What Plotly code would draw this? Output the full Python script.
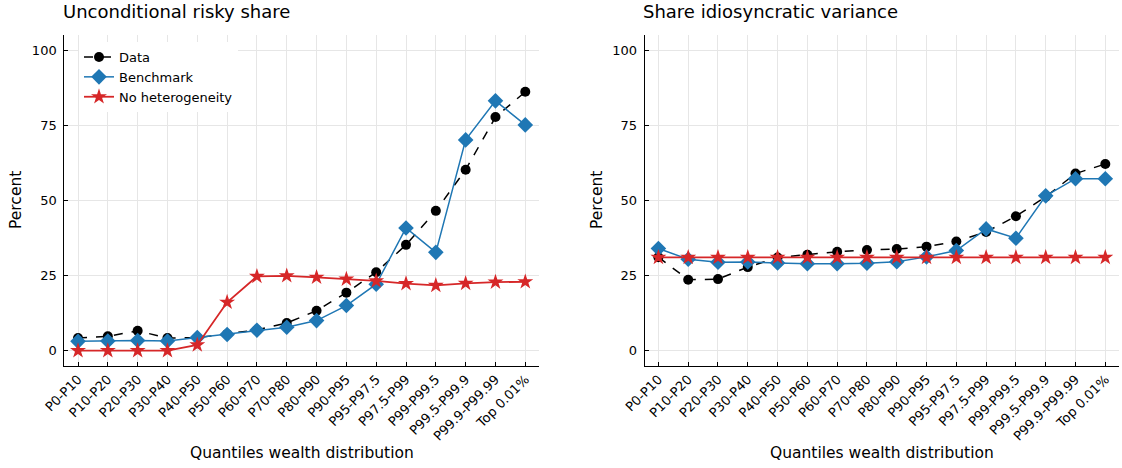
import plotly.graph_objects as go

quantiles = ["P0-P10", "P10-P20", "P20-P30", "P30-P40", "P40-P50", "P50-P60",
             "P60-P70", "P70-P80", "P80-P90", "P90-P95", "P95-P97.5", "P97.5-P99",
             "P99-P99.5", "P99.5-P99.9", "P99.9-P99.99", "Top 0.01%"]

# Unconditional risky share (percent)
risky_data = [4.2, 4.8, 6.6, 4.2, 4.3, 5.5, 6.9, 9.2, 13.3, 19.3, 26.1, 35.2,
              46.5, 60.2, 77.7, 86.1]
risky_bench = [3.1, 3.2, 3.4, 3.2, 4.4, 5.4, 6.8, 7.8, 10.0, 15.0, 22.1, 40.8,
               32.7, 70.1, 83.1, 75.1]
risky_nohet = [0.0, 0.0, 0.0, 0.0, 1.9, 16.1, 24.7, 24.9, 24.4, 23.8, 23.2, 22.3,
               21.7, 22.4, 22.8, 22.9]

# Share of idiosyncratic variance (percent)
idio_data = [31.1, 23.6, 23.8, 27.8, 31.0, 31.9, 32.9, 33.5, 33.8, 34.6, 36.3, 39.5,
             44.7, 51.2, 58.9, 62.1]
idio_bench = [34.0, 30.4, 29.4, 29.5, 29.2, 28.9, 28.9, 29.1, 29.6, 31.2, 33.3, 40.5,
              37.4, 51.5, 57.2, 57.2]
idio_nohet = [31.0] * 16

y_ticks = [0, 25, 50, 75, 100]

BLACK = "#000000"
BLUE = "#1f77b4"
RED = "#d62728"
FONT = "DejaVu Sans"

fig = go.Figure()

panels = [
    ("x", "y", risky_data, risky_bench, risky_nohet, True),
    ("x2", "y2", idio_data, idio_bench, idio_nohet, False),
]
for xa, ya, d, b, n, show in panels:
    fig.add_trace(go.Scatter(
        x=quantiles, y=d, xaxis=xa, yaxis=ya, name="Data", mode="lines+markers",
        line=dict(color=BLACK, width=1.5, dash="dash"),
        marker=dict(symbol="circle", size=10, color=BLACK),
        showlegend=show, legendgroup="data"))
    fig.add_trace(go.Scatter(
        x=quantiles, y=b, xaxis=xa, yaxis=ya, name="Benchmark", mode="lines+markers",
        line=dict(color=BLUE, width=1.5),
        marker=dict(symbol="diamond", size=12, color=BLUE),
        showlegend=show, legendgroup="bench"))
    fig.add_trace(go.Scatter(
        x=quantiles, y=n, xaxis=xa, yaxis=ya, name="No heterogeneity", mode="lines+markers",
        line=dict(color=RED, width=1.8),
        marker=dict(symbol="star", size=12, color=RED),
        showlegend=show, legendgroup="nohet"))

W, H = 1122, 468
x_dom_left = [64.3 / W, 539 / W]
x_dom_right = [644.7 / W, 1119 / W]
y_dom = [(H - 365.7) / H, (H - 35) / H]

xaxis_common = dict(
    type="category", range=[-0.46, 15.46], tickangle=-45, automargin=False,
    showline=True, linecolor=BLACK, linewidth=1, mirror=False,
    ticks="inside", ticklen=4, tickcolor=BLACK,
    showgrid=True, gridcolor="#e6e6e6", gridwidth=1, zeroline=False,
    tickfont=dict(family=FONT, size=13, color=BLACK),
)
yaxis_common = dict(
    range=[-5, 105], tickvals=y_ticks, ticktext=[str(v) for v in y_ticks],
    automargin=False,
    showline=True, linecolor=BLACK, linewidth=1, mirror=False,
    ticks="inside", ticklen=4, tickcolor=BLACK, ticklabelstandoff=4,
    showgrid=True, gridcolor="#e6e6e6", gridwidth=1, zeroline=False,
    tickfont=dict(family=FONT, size=13, color=BLACK),
)


def text_note(text, x, y, size, angle=0, xanchor="center"):
    return dict(text=text, x=x / W, y=(H - y) / H, xref="paper", yref="paper",
                xanchor=xanchor, yanchor="middle", textangle=angle,
                showarrow=False, borderpad=0,
                font=dict(family=FONT, size=size, color=BLACK))


fig.update_layout(
    width=W, height=H,
    margin=dict(l=0, r=0, t=0, b=0),
    paper_bgcolor="white", plot_bgcolor="white",
    font=dict(family=FONT, color=BLACK),
    xaxis=dict(domain=x_dom_left, anchor="y", **xaxis_common),
    yaxis=dict(domain=y_dom, anchor="x", **yaxis_common),
    xaxis2=dict(domain=x_dom_right, anchor="y2", **xaxis_common),
    yaxis2=dict(domain=y_dom, anchor="x2", **yaxis_common),
    legend=dict(x=79 / W, y=(H - 42) / H, xanchor="left", yanchor="top",
                bgcolor="white", borderwidth=0, itemwidth=30,
                font=dict(family=FONT, size=13, color=BLACK),
                tracegroupgap=0),
    annotations=[
        text_note("Unconditional risky share", 62, 11, 18, xanchor="left"),
        text_note("Share idiosyncratic variance", 642, 11, 18, xanchor="left"),
        text_note("Quantiles wealth distribution", 302, 453, 15.5),
        text_note("Quantiles wealth distribution", 882, 453, 15.5),
        text_note("Percent", 16, 200, 15.5, angle=-90),
        text_note("Percent", 597, 200, 15.5, angle=-90),
    ],
)

fig.write_html("out.html")
